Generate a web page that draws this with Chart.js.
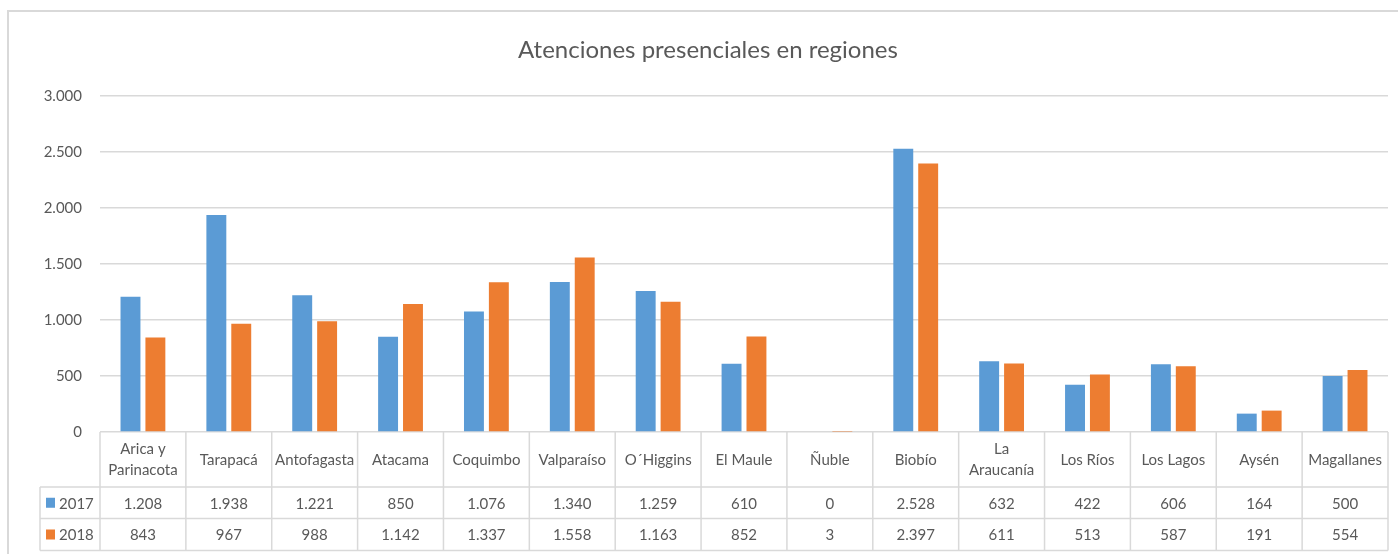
<!DOCTYPE html>
<html>
<head>
<meta charset="utf-8">
<script src="https://cdn.jsdelivr.net/npm/chart.js"></script>
<style>
  html, body { margin: 0; padding: 0; background: #fff; }
  #wrap { width: 1398px; height: 554px; }
</style>
</head>
<body>
<div id="wrap"><canvas id="myChart"></canvas></div>
<script>
const regiones = [
    ["Arica y", "Parinacota"], "Tarapacá", "Antofagasta", "Atacama", "Coquimbo", "Valparaíso",
    "O´Higgins", "El Maule", "Ñuble", "Biobío", ["La", "Araucanía"], "Los Ríos", "Los Lagos", "Aysén", "Magallanes"
];
const valores2017 = [1208, 1938, 1221, 850, 1076, 1340, 1259, 610, 0, 2528, 632, 422, 606, 164, 500];
const valores2018 = [843, 967, 988, 1142, 1337, 1558, 1163, 852, 3, 2397, 611, 513, 587, 191, 554];
const anios = ["2017", "2018"];
const colores = ["#5B9BD5", "#ED7D31"];
const titulo = 'Atenciones presenciales en regiones';

const FONT = "Lato, 'Open Sans', sans-serif";
const GRIS = "#595959";
const LINEA = "#d9d9d9";

function miles(v) {
    return String(v).replace(/\B(?=(\d{3})+(?!\d))/g, ".");
}

// titulo centrado sobre el marco completo
const tituloPlugin = {
    id: 'tituloPlugin',
    afterDraw(chart) {
        const c = chart.ctx;
        c.save();
        c.fillStyle = GRIS;
        c.font = "24px " + FONT;
        c.textAlign = "center";
        c.textBaseline = "middle";
        c.fillText(titulo, 708, 50);
        c.restore();
    }
};

// dibuja la tabla de datos debajo del grafico (como en Excel)
const tablaDatos = {
    id: 'tablaDatos',
    afterDraw(chart) {
        const c = chart.ctx;
        const area = chart.chartArea;
        const n = regiones.length;
        const w = (area.right - area.left) / n;
        const yTop = area.bottom;
        const yRow1 = yTop + 55;
        const yRow2 = yRow1 + 31.5;
        const yEnd = yRow2 + 32;
        const xLeg = 40;

        c.save();
        // marco exterior
        c.strokeStyle = LINEA;
        c.lineWidth = 2;
        c.strokeRect(8, 11, 1420, 580);

        c.lineWidth = 1.5;
        c.beginPath();
        [yRow1, yRow2, yEnd].forEach(y => { c.moveTo(xLeg, y); c.lineTo(area.right, y); });
        c.moveTo(xLeg, yRow1); c.lineTo(xLeg, yEnd);
        for (let i = 0; i <= n; i++) {
            const x = area.left + i * w;
            c.moveTo(x, yTop); c.lineTo(x, yEnd);
        }
        c.stroke();

        c.fillStyle = GRIS;
        c.font = "15px " + FONT;
        c.textAlign = "center";
        c.textBaseline = "middle";
        const series = [valores2017, valores2018];
        for (let i = 0; i < n; i++) {
            const xc = area.left + (i + 0.5) * w;
            const lab = regiones[i];
            if (Array.isArray(lab)) {
                c.fillText(lab[0], xc, yTop + 17);
                c.fillText(lab[1], xc, yTop + 38);
            } else {
                c.fillText(lab, xc, yTop + 28);
            }
            c.fillText(miles(series[0][i]), xc, (yRow1 + yRow2) / 2 + 1);
            c.fillText(miles(series[1][i]), xc, (yRow2 + yEnd) / 2 + 1);
        }
        // leyenda en la tabla
        [[yRow1, yRow2], [yRow2, yEnd]].forEach((r, k) => {
            const ym = (r[0] + r[1]) / 2;
            c.fillStyle = colores[k];
            c.fillRect(46, ym - 5, 9, 10);
            c.fillStyle = GRIS;
            c.textAlign = "left";
            c.fillText(anios[k], 59, ym + 1);
        });
        c.restore();
    }
};

const ctx = document.getElementById('myChart');
const chart = new Chart(ctx, {
    type: 'bar',
    data: {
        labels: regiones,
        datasets: [{
            label: anios[0],
            data: valores2017,
            backgroundColor: colores[0]
        }, {
            label: anios[1],
            data: valores2018,
            backgroundColor: colores[1]
        }]
    },
    options: {
        responsive: true,
        maintainAspectRatio: false,
        animation: false,
        datasets: {
            bar: { categoryPercentage: 0.58, barPercentage: 0.8 }
        },
        layout: {
            padding: { left: 0, right: 10, top: 96, bottom: 122 }
        },
        plugins: {
            legend: { display: false },
            tooltip: { enabled: false },
            title: { display: false }
        },
        scales: {
            x: {
                display: false
            },
            y: {
                min: 0,
                max: 3000,
                ticks: {
                    stepSize: 500,
                    padding: 18,
                    color: GRIS,
                    font: { family: FONT, size: 15 },
                    callback: v => miles(v)
                },
                grid: { color: LINEA, lineWidth: 1.5, drawTicks: false },
                border: { display: false },
                afterFit(scale) { scale.width = 100; }
            }
        }
    },
    plugins: [tablaDatos, tituloPlugin]
});
</script>
</body>
</html>
